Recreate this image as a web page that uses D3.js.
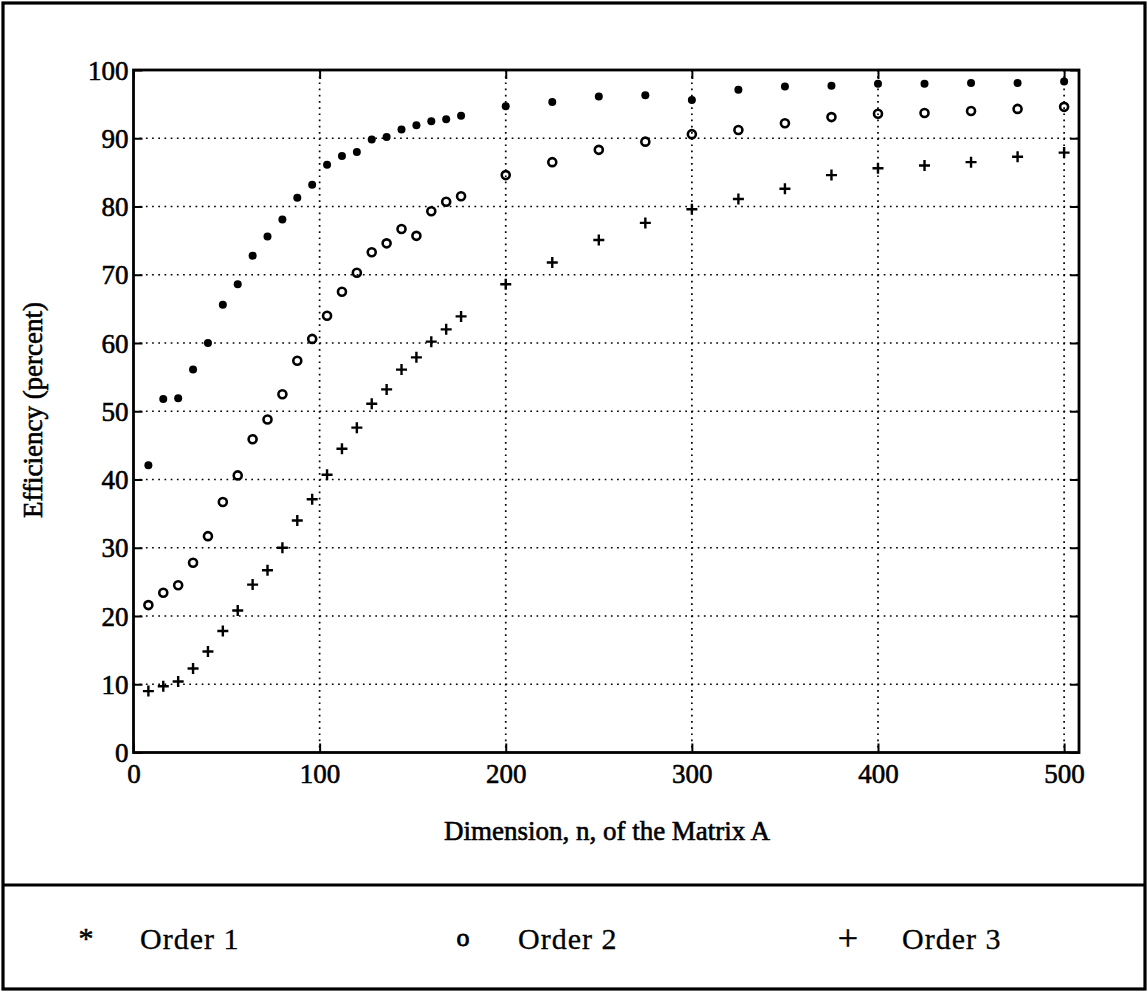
<!DOCTYPE html>
<html>
<head>
<meta charset="utf-8">
<script src="https://cdn.jsdelivr.net/npm/d3@7"></script>
<style>
  html, body { margin: 0; padding: 0; background: #fff; }
  svg { display: block; }
  text { font-family: "Liberation Serif", "DejaVu Serif", serif; fill: #000; }
</style>
</head>
<body>
<script>
// ---- data ----
const nSmall = [8,16,24,32,40,48,56,64,72,80,88,96,104,112,120,128,136,144,152,160,168,176];
const nLarge = [200,225,250,275,300,325,350,375,400,425,450,475,500];
const dimensions = nSmall.concat(nLarge);

const order1 = [42.1,51.8,51.9,56.1,60.0,65.6,68.6,72.8,75.6,78.1,81.3,83.2,86.1,87.4,88.0,89.8,90.2,91.3,91.9,92.5,92.8,93.3,
                94.7,95.3,96.1,96.3,95.6,97.1,97.6,97.7,98.0,98.0,98.1,98.1,98.3];
const order2 = [21.6,23.4,24.5,27.8,31.7,36.7,40.6,45.9,48.8,52.5,57.4,60.6,64.0,67.5,70.3,73.3,74.6,76.7,75.7,79.3,80.7,81.5,
                84.6,86.5,88.3,89.5,90.6,91.2,92.2,93.1,93.6,93.7,94.0,94.3,94.6];
const order3 = [9.0,9.7,10.4,12.3,14.8,17.8,20.8,24.6,26.7,30.0,34.0,37.1,40.7,44.5,47.6,51.1,53.2,56.1,57.9,60.2,62.0,63.9,
                68.6,71.8,75.1,77.6,79.6,81.1,82.6,84.6,85.6,86.0,86.5,87.3,87.9];

const seriesNames = ["Order 1", "Order 2", "Order 3"];
const xTicks = [0,100,200,300,400,500];
const yTicks = [0,10,20,30,40,50,60,70,80,90,100];
const xLabel = "Dimension, n, of the Matrix A";
const yLabel = "Efficiency (percent)";

// ---- layout ----
const W = 1148, H = 993;
const plot = { left: 133.5, right: 1079, top: 70, bottom: 752.5 };

const svg = d3.select("body").append("svg").attr("width", W).attr("height", H);

const x = d3.scaleLinear().domain([0, 508]).range([plot.left, plot.right]);
const y = d3.scaleLinear().domain([0, 100]).range([plot.bottom, plot.top]);

// outer frame + divider
svg.append("rect").attr("x", 3).attr("y", 3).attr("width", 1142).attr("height", 986)
  .attr("fill", "none").attr("stroke", "#000").attr("stroke-width", 3.2);
svg.append("line").attr("x1", 3).attr("x2", 1145).attr("y1", 885).attr("y2", 885)
  .attr("stroke", "#000").attr("stroke-width", 3);

// grid
const grid = svg.append("g").attr("stroke", "#000").attr("stroke-width", 1.7)
  .attr("stroke-dasharray", "1.7,4.5");
grid.selectAll(".gx").data(xTicks.filter(d => d > 0)).join("line")
  .attr("x1", d => x(d)).attr("x2", d => x(d)).attr("y1", plot.top).attr("y2", plot.bottom);
grid.selectAll(".gy").data(yTicks.filter(d => d > 0 && d < 100)).join("line")
  .attr("y1", d => y(d)).attr("y2", d => y(d)).attr("x1", plot.left).attr("x2", plot.right);

// axes (ticks inward)
const tickLen = 9;
const axB = svg.append("g").attr("transform", `translate(0,${plot.bottom})`)
  .call(d3.axisBottom(x).tickValues(xTicks).tickSize(-tickLen).tickPadding(11).tickSizeOuter(0));
const axT = svg.append("g").attr("transform", `translate(0,${plot.top})`)
  .call(d3.axisTop(x).tickValues(xTicks).tickSize(-tickLen).tickFormat("").tickSizeOuter(0));
const axL = svg.append("g").attr("transform", `translate(${plot.left},0)`)
  .call(d3.axisLeft(y).tickValues(yTicks).tickSize(-tickLen).tickPadding(5).tickSizeOuter(0));
const axR = svg.append("g").attr("transform", `translate(${plot.right},0)`)
  .call(d3.axisRight(y).tickValues(yTicks).tickSize(-tickLen).tickFormat("").tickSizeOuter(0));
[axB, axT, axL, axR].forEach(a => {
  a.attr("font-family", null);
  a.select(".domain").remove();
  a.selectAll(".tick line").attr("stroke", "#000").attr("stroke-width", 2);
  a.selectAll(".tick text").attr("font-family", "Liberation Serif").attr("font-size", 27)
    .attr("fill", "#000").attr("stroke", "#000").attr("stroke-width", 0.6);
});
axL.selectAll(".tick text").attr("dy", "0.34em");

// plot box
svg.append("rect").attr("x", plot.left).attr("y", plot.top)
  .attr("width", plot.right - plot.left).attr("height", plot.bottom - plot.top)
  .attr("fill", "none").attr("stroke", "#000").attr("stroke-width", 2.8);

// axis labels
svg.append("text").attr("x", 607).attr("y", 840)
  .attr("text-anchor", "middle").attr("font-size", 27).attr("stroke", "#000").attr("stroke-width", 0.6)
  .text(xLabel);
svg.append("text").attr("transform", "translate(42,410) rotate(-90)")
  .attr("text-anchor", "middle").attr("font-size", 27).attr("stroke", "#000").attr("stroke-width", 0.6)
  .text(yLabel);

// markers
const pts = (vals) => dimensions.map((d, i) => ({ n: d, v: vals[i] }));
const g = svg.append("g");
g.selectAll(".o1").data(pts(order1)).join("circle")
  .attr("cx", d => x(d.n)).attr("cy", d => y(d.v)).attr("r", 4).attr("fill", "#000");
g.selectAll(".o2").data(pts(order2)).join("circle")
  .attr("cx", d => x(d.n)).attr("cy", d => y(d.v)).attr("r", 4)
  .attr("fill", "none").attr("stroke", "#000").attr("stroke-width", 2.6);
g.selectAll(".o3").data(pts(order3)).join("path")
  .attr("transform", d => `translate(${x(d.n)},${y(d.v)})`)
  .attr("d", "M-5.5,0H5.5M0,-5.5V5.5").attr("stroke", "#000").attr("stroke-width", 2.4).attr("fill", "none");

// legend
const legendSyms = ["*", "o", "+"];
const legendSymX = [86, 463, 848];
const legendSymY = [948, 946, 950];
const legendSymSize = [30, 26, 36];
const legendTxtX = [140, 518, 902];
const lg = svg.append("g");
seriesNames.forEach((name, i) => {
  lg.append("text").attr("x", legendSymX[i]).attr("y", legendSymY[i])
    .attr("text-anchor", "middle").attr("font-size", legendSymSize[i])
    .attr("stroke", "#000").attr("stroke-width", i === 1 ? 0.8 : 0.5).text(legendSyms[i]);
  lg.append("text").attr("x", legendTxtX[i]).attr("y", 949)
    .attr("font-size", 30).attr("letter-spacing", 1).attr("stroke", "#000").attr("stroke-width", 0.3)
    .text(name);
});
</script>
</body>
</html>
